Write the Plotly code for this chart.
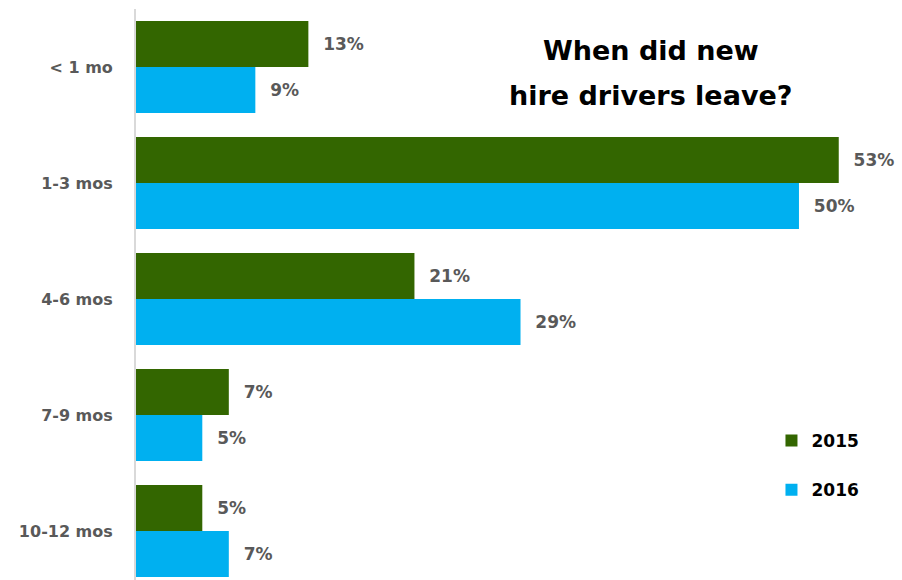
import plotly.graph_objects as go

# Tenure buckets at which new-hire drivers left, and share of leavers (%)
categories = ["< 1 mo", "1-3 mos", "4-6 mos", "7-9 mos", "10-12 mos"]
leavers_2015 = [13, 53, 21, 7, 5]
leavers_2016 = [9, 50, 29, 5, 7]
series_names = ["2015", "2016"]
title_lines = ["When did new", "hire drivers leave?"]

GREEN = "#336600"
BLUE = "#00B0F0"
LABEL_GREY = "#595959"
FONT = "DejaVu Sans"

pad = "\u00a0\u00a0"  # spacing between bar end and value label

fig = go.Figure()
for name, vals, color in [(series_names[0], leavers_2015, GREEN),
                          (series_names[1], leavers_2016, BLUE)]:
    fig.add_trace(go.Bar(
        y=categories, x=vals, name=name, orientation="h",
        marker=dict(color=color, line=dict(width=0)),
        text=vals, texttemplate=pad + "%{x}%", textposition="outside",
        textfont=dict(family=FONT, size=17, color=LABEL_GREY, weight="bold"),
        cliponaxis=False, legendgroup=name,
    ))

fig.update_layout(
    width=902, height=580,
    margin=dict(l=136, r=0, t=9, b=0),
    paper_bgcolor="white", plot_bgcolor="white",
    barmode="group", bargap=0.207, bargroupgap=0,
    showlegend=True,
    legend=dict(x=0.8296, y=0.275, xanchor="left", yanchor="top",
                traceorder="grouped", tracegroupgap=24,
                font=dict(family=FONT, size=17, color="black", weight="bold"),
                itemwidth=30, bgcolor="rgba(0,0,0,0)"),
    xaxis=dict(range=[0, 57.77], visible=False, fixedrange=True),
    yaxis=dict(range=[4.422, -0.5], categoryorder="array", categoryarray=categories,
               showline=True, linecolor="#d9d9d9", linewidth=2, ticks="",
               showgrid=False, ticklabelstandoff=18,
               tickfont=dict(family=FONT, size=16, color=LABEL_GREY, weight="bold")),
    font=dict(family=FONT),
)

# Two-line chart title placed inside the plot area, upper right
for line, ypos in zip(title_lines, [0.928, 0.849]):
    fig.add_annotation(
        text=line, xref="paper", yref="paper",
        x=0.672, y=ypos, xanchor="center", yanchor="middle", showarrow=False,
        font=dict(family=FONT, size=27, color="black", weight="bold"),
    )

fig.write_html("out.html")
